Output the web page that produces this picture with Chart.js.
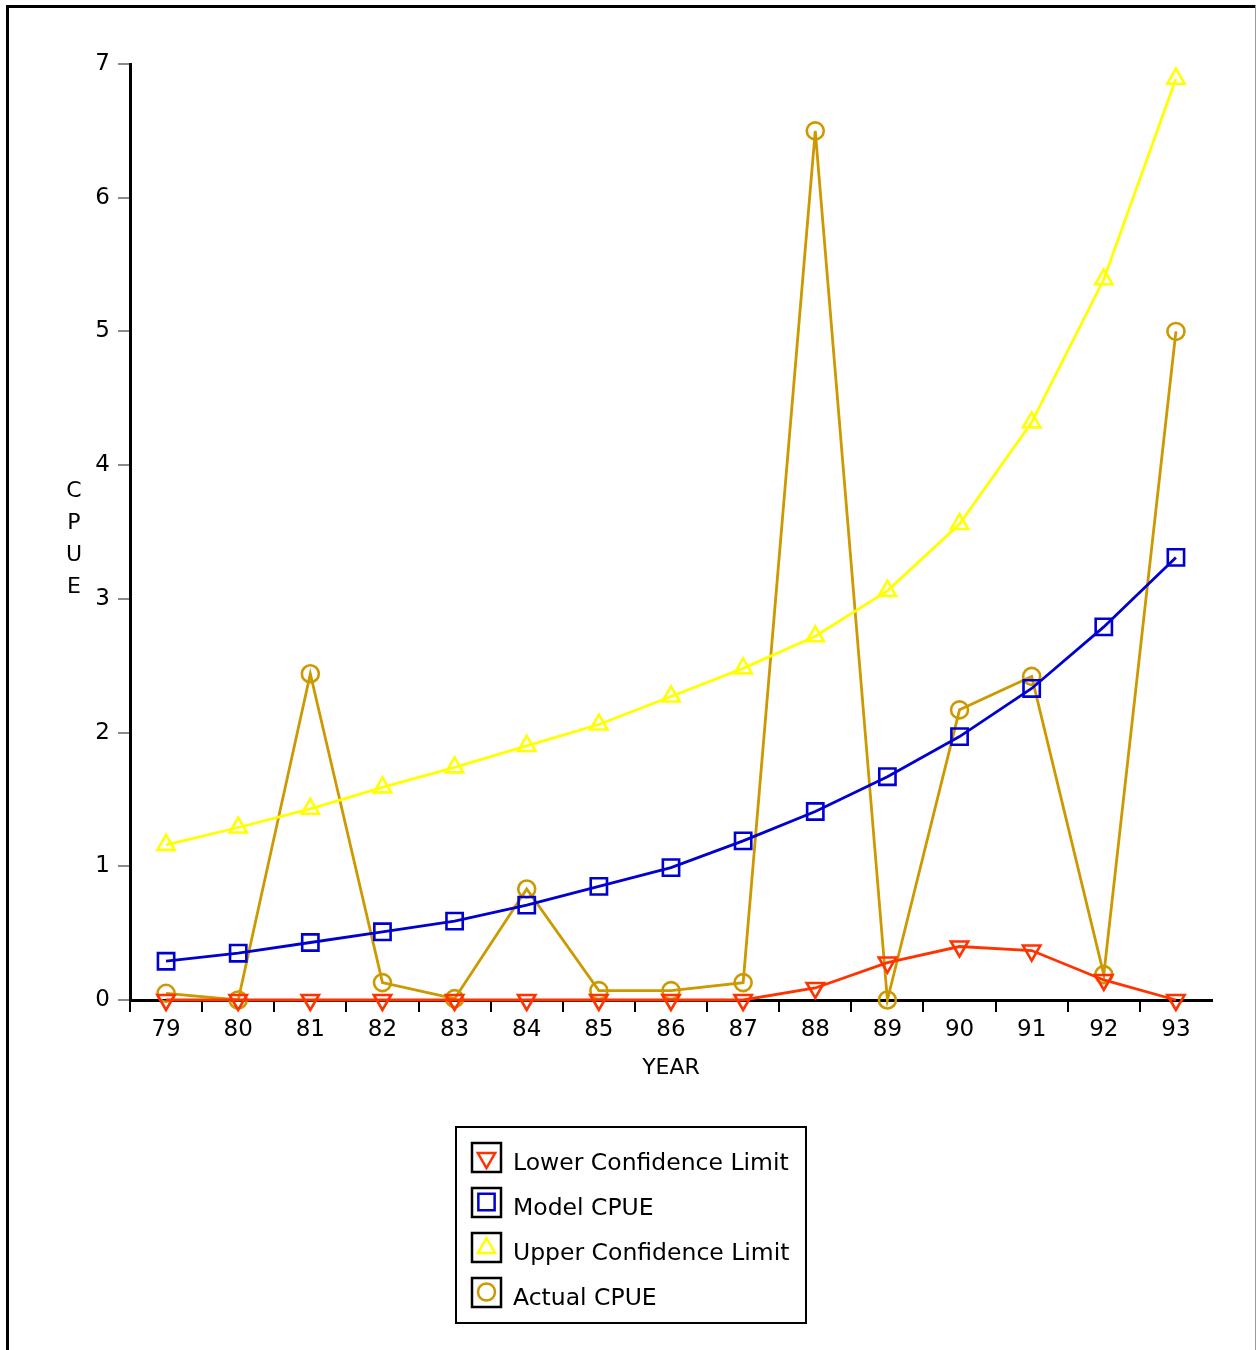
<!DOCTYPE html>
<html>
<head>
<meta charset="utf-8">
<script src="https://cdn.jsdelivr.net/npm/chart.js@4.4.1/dist/chart.umd.min.js"></script>
<style>
  html, body { margin: 0; padding: 0; background: #fff; }
  #wrap { position: relative; width: 1257px; height: 1350px; }
  canvas { display: block; }
</style>
</head>
<body>
<div id="wrap"><canvas id="c" width="1257" height="1350"></canvas></div>
<script>
const years = ['79','80','81','82','83','84','85','86','87','88','89','90','91','92','93'];
const lowerCL = [0, 0, 0, 0, 0, 0, 0, 0, 0, 0.09, 0.28, 0.40, 0.37, 0.15, 0];
const modelCPUE = [0.29, 0.35, 0.43, 0.51, 0.59, 0.71, 0.85, 0.99, 1.19, 1.41, 1.67, 1.97, 2.33, 2.79, 3.31];
const upperCL = [1.16, 1.29, 1.43, 1.59, 1.74, 1.90, 2.06, 2.27, 2.48, 2.72, 3.06, 3.56, 4.32, 5.39, 6.89];
const actualCPUE = [0.05, 0, 2.44, 0.13, 0.01, 0.83, 0.07, 0.07, 0.13, 6.50, 0, 2.17, 2.42, 0.19, 5.00];
const yTicks = [0, 1, 2, 3, 4, 5, 6, 7];
const yTitleLetters = ['C', 'P', 'U', 'E'];
const xTitle = 'YEAR';

const FONT = '"DejaVu Sans", Verdana, sans-serif';

const frame = {
  id: 'frame',
  beforeDraw(chart) {
    const ctx = chart.ctx;
    ctx.save();
    ctx.fillStyle = '#fff';
    ctx.fillRect(0, 0, chart.width, chart.height);
    ctx.fillStyle = '#000';
    ctx.fillRect(6, 5, 1250, 3);
    ctx.fillRect(6, 5, 3, 1345);
    ctx.fillStyle = '#9a9a9a';
    ctx.fillRect(1255, 5, 1, 1345);
    ctx.restore();
  }
};

const yLetters = {
  id: 'yLetters',
  afterDraw(chart) {
    const ctx = chart.ctx;
    ctx.save();
    ctx.fillStyle = '#000';
    ctx.font = '22px ' + FONT;
    ctx.textAlign = 'center';
    ctx.textBaseline = 'middle';
    yTitleLetters.forEach((l, i) => ctx.fillText(l, 74, 491 + i * 32));
    ctx.restore();
  }
};

const boxLegend = {
  id: 'boxLegend',
  afterDraw(chart) {
    const ctx = chart.ctx;
    ctx.save();
    ctx.strokeStyle = '#000';
    ctx.lineWidth = 2;
    ctx.strokeRect(456, 1127, 350, 196);
    chart.data.datasets.forEach((ds, i) => {
      const cy = 1157 + i * 45;
      ctx.strokeStyle = '#000';
      ctx.lineWidth = 2.5;
      ctx.strokeRect(472, cy - 14, 29, 29);
      ctx.strokeStyle = ds.borderColor;
      ctx.fillStyle = 'rgba(0,0,0,0)';
      Chart.helpers.drawPoint(ctx, {
        pointStyle: ds.pointStyle,
        rotation: ds.pointRotation || 0,
        radius: ds.pointStyle === 'rect' ? 11.5 : (ds.pointStyle === 'circle' ? 8.5 : 10),
        borderWidth: 2.5
      }, 486.5, cy + (ds.pointStyle === 'triangle' ? 1 : 0));
      ctx.fillStyle = '#000';
      ctx.font = '23.5px ' + FONT;
      ctx.textAlign = 'left';
      ctx.textBaseline = 'alphabetic';
      ctx.fillText(ds.label, 513, cy + 13);
    });
    ctx.restore();
  }
};

function series(label, data, color, style, rot, radius) {
  return {
    label, data,
    borderColor: color,
    backgroundColor: 'rgba(0,0,0,0)',
    borderWidth: 2.8,
    pointStyle: style,
    pointRotation: rot,
    pointRadius: radius,
    pointHoverRadius: radius,
    pointBorderWidth: 2.6,
    pointBorderColor: color,
    pointBackgroundColor: 'rgba(0,0,0,0)',
    tension: 0,
    fill: false,
    clip: false
  };
}

new Chart(document.getElementById('c'), {
  type: 'line',
  data: {
    labels: years,
    datasets: [
      series('Lower Confidence Limit', lowerCL, '#ff3300', 'triangle', 180, 10),
      series('Model CPUE', modelCPUE, '#0000d0', 'rect', 0, 11.5),
      series('Upper Confidence Limit', upperCL, '#ffff00', 'triangle', 0, 10),
      series('Actual CPUE', actualCPUE, '#cc9900', 'circle', 0, 8.5)
    ]
  },
  options: {
    responsive: false,
    animation: false,
    events: [],
    layout: { padding: { left: 0, right: 45, top: 64, bottom: 265 } },
    plugins: {
      legend: { display: false },
      tooltip: { enabled: false },
      title: { display: false }
    },
    scales: {
      x: {
        type: 'category',
        offset: true,
        afterFit(scale) { scale.height = 85; },
        border: { display: true, color: '#000', width: 3 },
        grid: {
          offset: true,
          drawOnChartArea: false,
          drawTicks: true,
          tickLength: 12,
          lineWidth: 2,
          color: (ctx) => (ctx.index === undefined ? 'rgba(0,0,0,0)' : '#000')
        },
        ticks: {
          color: '#000',
          font: { family: FONT, size: 23 },
          padding: 4,
          maxRotation: 0,
          autoSkip: false
        },
        title: {
          display: true,
          text: xTitle,
          color: '#000',
          font: { family: FONT, size: 22 },
          padding: { top: 4, bottom: 4 }
        }
      },
      y: {
        min: 0,
        max: 7,
        afterFit(scale) { scale.width = 130; },
        afterBuildTicks(scale) { scale.ticks = yTicks.map(v => ({ value: v })); },
        border: { display: true, color: '#000', width: 3 },
        grid: {
          drawOnChartArea: false,
          drawTicks: true,
          tickLength: 12,
          lineWidth: 2,
          color: '#8a8a8a'
        },
        ticks: {
          color: '#000',
          font: { family: FONT, size: 23 },
          padding: 8
        },
        title: { display: false }
      }
    }
  },
  plugins: [frame, yLetters, boxLegend]
});
</script>
</body>
</html>
